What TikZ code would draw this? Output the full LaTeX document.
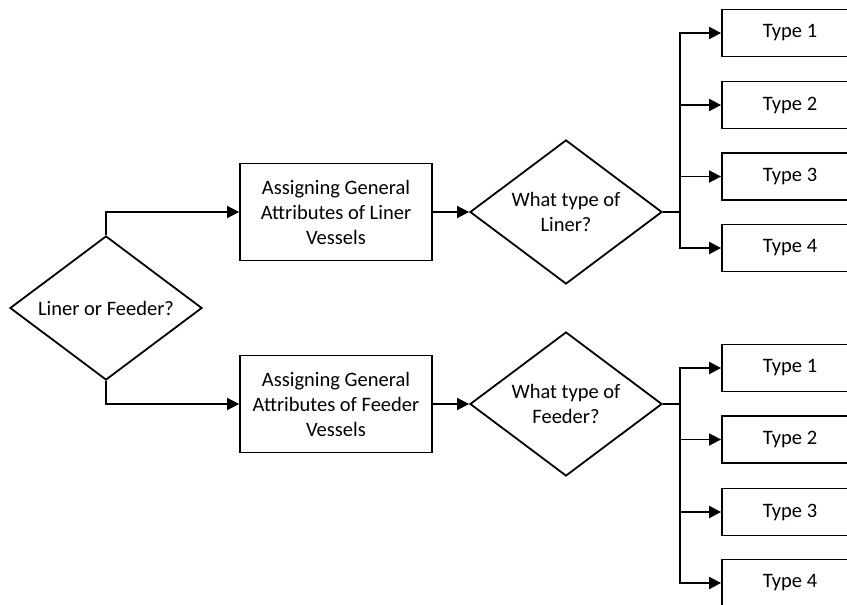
\documentclass[tikz,border=0pt]{standalone}
\usepackage{fontspec}
\setmainfont{Carlito}
\usetikzlibrary{shapes.geometric,arrows.meta}
\begin{document}
\begin{tikzpicture}[x=1pt,y=-1pt,
  every node/.style={font=\fontsize{20.5}{25}\selectfont, align=center, inner sep=0pt},
  procbox/.style={draw, line width=1.8pt, minimum width=192pt, minimum height=97pt},
  decision/.style={draw, diamond, line width=1.8pt, aspect=1.333, minimum width=192pt, minimum height=144pt},
  typebox/.style={draw, line width=1.8pt, minimum width=136pt, minimum height=47pt},
  flow/.style={line width=1.8pt, -{Triangle[length=12pt,width=12pt]}},
  trunk/.style={line width=1.8pt}]
\useasboundingbox (0,0) rectangle (847,605);
\clip (0,0) rectangle (847,605);

% first decision
\node[decision] (start) at (106,308) {Liner or Feeder?};

% liner branch
\node[procbox] (liner) at (336,212) {Assigning General\\Attributes of Liner\\Vessels};
\node[decision] (lq) at (566,212) {What type of\\Liner?};
\coordinate (lj) at (680,212);
\node[typebox] (lt1) at (790,33) {Type 1};
\node[typebox] (lt2) at (790,105) {Type 2};
\node[typebox] (lt3) at (790,176.5) {Type 3};
\node[typebox] (lt4) at (790,248) {Type 4};

% feeder branch
\node[procbox] (feeder) at (336,404) {Assigning General\\Attributes of Feeder\\Vessels};
\node[decision] (fq) at (566,404) {What type of\\Feeder?};
\coordinate (fj) at (680,404);
\node[typebox] (ft1) at (790,368) {Type 1};
\node[typebox] (ft2) at (790,439.5) {Type 2};
\node[typebox] (ft3) at (790,512) {Type 3};
\node[typebox] (ft4) at (790,583) {Type 4};

% connectors
\draw[flow] (start.north) |- (liner.west);
\draw[flow] (start.south) |- (feeder.west);
\draw[flow] (liner.east) -- (lq.west);
\draw[flow] (feeder.east) -- (fq.west);

\draw[trunk] (lq.east) -- (lj);
\foreach \t in {lt1,lt2,lt3,lt4} \draw[flow] (lj) |- (\t.west);
\draw[trunk] (fq.east) -- (fj);
\foreach \t in {ft1,ft2,ft3,ft4} \draw[flow] (fj) |- (\t.west);
\end{tikzpicture}
\end{document}
